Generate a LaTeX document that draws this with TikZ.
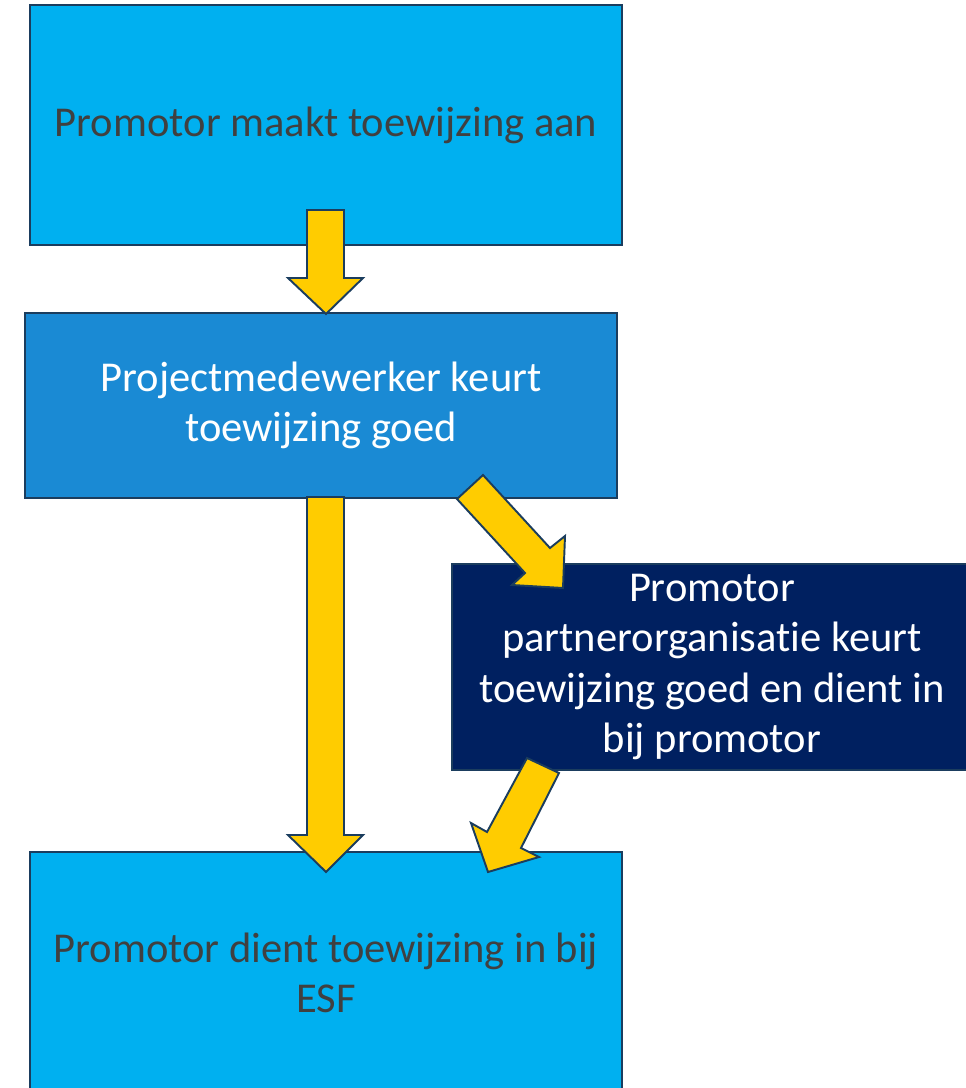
\documentclass[tikz,border=0pt]{standalone}
\usepackage{fontspec}
\setmainfont{Carlito}[Ligatures=NoCommon]
\definecolor{lichtblauw}{HTML}{00B0F0}
\definecolor{middenblauw}{HTML}{1A8AD4}
\definecolor{donkerblauw}{HTML}{002060}
\definecolor{geel}{HTML}{FFCC00}
\definecolor{rand}{HTML}{1B3D5E}
\definecolor{tekstgrijs}{HTML}{404040}
\begin{document}
\begin{tikzpicture}[x=0.02cm, y=-0.02cm,
  stap/.style={draw=rand, line width=0.8pt, inner sep=0pt, align=center, font=\fontsize{24.2}{28.5}\selectfont},
  pijl/.style={draw=rand, line width=1.1pt, fill=geel, line join=miter}]
\useasboundingbox (0,0) rectangle (966,1088);
\node[stap, fill=lichtblauw, text=tekstgrijs, minimum width=11.84cm, minimum height=4.8cm] (aanmaak) at (326,125) {Promotor maakt toewijzing aan};
\node[stap, fill=middenblauw, text=white, minimum width=11.84cm, minimum height=3.7cm] (keuring) at (321,405.5) {Projectmedewerker keurt\\toewijzing goed};
\node[stap, fill=donkerblauw, text=white, minimum width=10.4cm, minimum height=4.12cm] (partner) at (712,667) {Promotor\\partnerorganisatie keurt\\toewijzing goed en dient in\\bij promotor};
\node[stap, fill=lichtblauw, text=tekstgrijs, minimum width=11.84cm, minimum height=4.84cm] (indienen) at (326,973) {Promotor dient toewijzing in bij\\ESF};
% gele pijlen
\draw[pijl] (307,210) -- (344,210) -- (344,278) -- (363,278) -- (326,314) -- (288,278) -- (307,278) -- cycle;
\draw[pijl] (307,497) -- (344,497) -- (344,835) -- (363,835) -- (326,872) -- (288,835) -- (307,835) -- cycle;
\draw[pijl] (457,499) -- (483,475) -- (550,548) -- (565,536) -- (563,588) -- (512,585) -- (525,573) -- cycle;
\draw[pijl] (559,773) -- (527,758) -- (487,832) -- (471,823) -- (488,872) -- (539,857) -- (521,848) -- cycle;
\end{tikzpicture}
\end{document}
